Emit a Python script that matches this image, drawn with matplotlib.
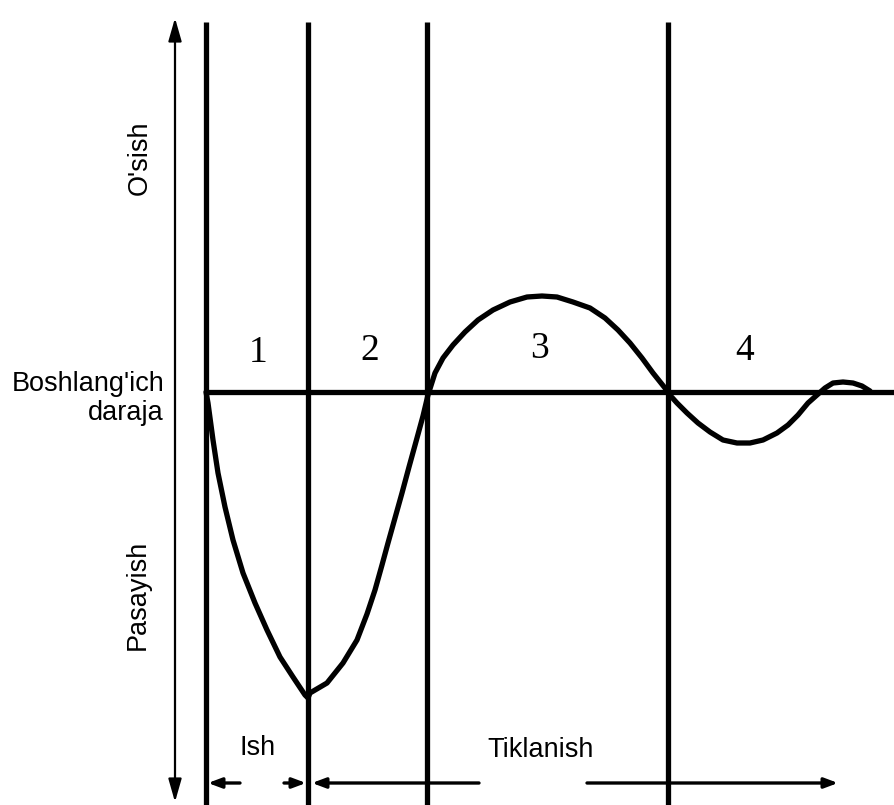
import matplotlib
matplotlib.use("Agg")
import matplotlib.pyplot as plt

# ── Data (pixel-space coordinates of the sketch) ─────────────────────────────
W, H = 894, 805
baseline_y = 392
phase_x = [206, 308, 427, 668]          # vertical phase boundaries
phase_labels = ["1", "2", "3", "4"]
phase_label_x = [258, 370, 540, 745]
phase_label_y = [353, 351, 349, 351]

# response curve
curve_x = [206, 208, 213, 218, 225, 233, 243, 255, 267, 280, 293, 305, 308,
           310, 327, 343, 357, 367, 375, 382, 388, 395, 402, 409, 417, 423, 428,
           435, 443, 453, 465, 478, 493, 510, 527, 542, 557, 573, 590, 605, 618, 630,
           642, 653, 665, 668,
           677, 687, 698, 710, 723, 737, 750, 763, 777, 788, 798, 808, 817, 825, 833,
           843, 853, 862, 870]
curve_y = [392, 403, 440, 473, 507, 540, 573, 603, 630, 657, 677, 695, 698,
           693, 683, 663, 640, 614, 590, 565, 543, 518, 493, 467, 438, 416, 395,
           373, 358, 345, 332, 320, 310, 302, 297, 296, 297, 302, 308, 318, 330, 343,
           358, 373, 388, 393,
           403, 413, 423, 432, 440, 443, 443, 440, 433, 425, 415, 403, 395, 388, 383,
           382, 383, 386, 391]

# bottom arrows: (start_x, end_x), head at end
bottom_arrows = [(240, 208), (284, 306), (479, 312), (587, 838)]
arrow_y = 783

fig = plt.figure(figsize=(W / 100, H / 100), dpi=100)
ax = fig.add_axes([0, 0, 1, 1])
ax.set_xlim(0, W)
ax.set_ylim(H, 0)
ax.axis("off")

ink = "#000000"

# vertical phase lines
for x in phase_x:
    ax.plot([x, x], [22, H + 5], color=ink, lw=3.8, solid_capstyle="butt")

# baseline
ax.plot([phase_x[0], W + 5], [baseline_y, baseline_y], color=ink, lw=3.8,
        solid_capstyle="butt")

# response curve
ax.plot(curve_x, curve_y, color=ink, lw=3.8, solid_joinstyle="round",
        solid_capstyle="round")

# left double-headed axis
ax.annotate("", xy=(175, 18), xytext=(175, 802),
            arrowprops=dict(arrowstyle="<|-|>,head_length=1.4,head_width=0.4",
                            color=ink, lw=1.6, shrinkA=0, shrinkB=0))

# bottom arrows
for x0, x1 in bottom_arrows:
    ax.annotate("", xy=(x1, arrow_y), xytext=(x0, arrow_y),
                arrowprops=dict(arrowstyle="-|>,head_length=0.8,head_width=0.3",
                                color=ink, lw=2.4, shrinkA=0, shrinkB=0))

# phase numbers
for lx, ly, lab in zip(phase_label_x, phase_label_y, phase_labels):
    ax.text(lx, ly, lab, ha="center", va="center", fontsize=27,
            family="Liberation Serif", color=ink)

sans = "Liberation Sans"
ax.text(140, 158, "O'sish", rotation=90, ha="center", va="center",
        fontsize=19.5, family=sans, color=ink)
ax.text(138, 595, "Pasayish", rotation=90, ha="center", va="center",
        fontsize=19.5, family=sans, color=ink)
ax.text(164, 398, "Boshlang'ich\ndaraja", ha="right", va="center",
        fontsize=19.5, family=sans, color=ink, multialignment="right",
        linespacing=1.15)
ax.text(258, 748, "Ish", ha="center", va="center", fontsize=19.5,
        family=sans, color=ink)
ax.text(541, 750, "Tiklanish", ha="center", va="center", fontsize=19.5,
        family=sans, color=ink)

fig.savefig("out.png", dpi=100)
